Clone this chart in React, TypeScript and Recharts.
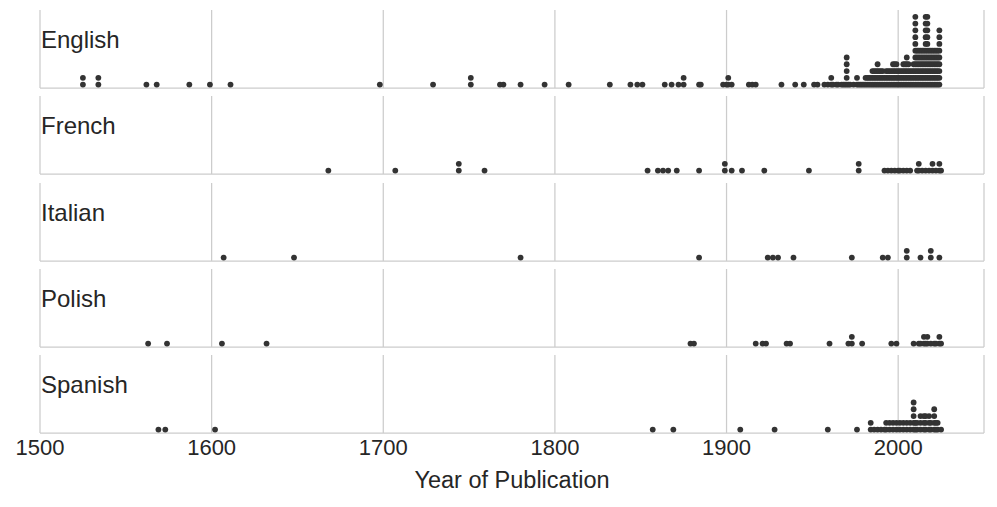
import { ScatterChart, Scatter, XAxis, YAxis, CartesianGrid, Label } from "recharts"

const languages = ["English", "French", "Italian", "Polish", "Spanish"]

// publication years and how many books share each year
const englishYears = [
  1525, 1534, 1562, 1568, 1587, 1599, 1611, 1698, 1729, 1751, 1768, 1770, 1780, 1794, 1808,
  1832, 1844, 1848, 1851, 1864, 1868, 1872, 1875, 1884, 1885, 1898, 1900, 1901, 1903, 1913,
  1915, 1917, 1932, 1940, 1945, 1951, 1953, 1957, 1959, 1961, 1962, 1964, 1965, 1967, 1968,
  1969, 1970, 1971, 1972, 1974, 1976, 1977, 1978, 1979, 1980, 1981, 1982, 1983, 1984, 1985,
  1986, 1987, 1988, 1989, 1990, 1991, 1992, 1993, 1994, 1995, 1996, 1997, 1998, 1999, 2000,
  2001, 2002, 2003, 2004, 2005, 2006, 2007, 2008, 2009, 2010, 2011, 2012, 2013, 2014, 2015,
  2016, 2017, 2018, 2019, 2020, 2021, 2022, 2023, 2024,
]
const englishCounts = [
  2, 2, 1, 1, 1, 1, 1, 1, 1, 2, 1, 1, 1, 1, 1,
  1, 1, 1, 1, 1, 1, 1, 2, 1, 1, 1, 1, 2, 1, 1,
  1, 1, 1, 1, 1, 1, 1, 1, 1, 2, 1, 1, 1, 1, 1,
  1, 5, 1, 1, 1, 2, 1, 1, 1, 1, 2, 2, 2, 2, 3,
  3, 3, 4, 3, 3, 3, 2, 3, 3, 3, 3, 4, 4, 4, 3,
  3, 3, 4, 4, 5, 4, 3, 3, 4, 11, 6, 6, 6, 6, 6,
  11, 11, 6, 6, 6, 6, 6, 6, 9,
]

const frenchYears = [
  1668, 1707, 1744, 1759, 1854, 1860, 1863, 1866, 1871, 1884, 1899, 1903, 1909, 1922, 1948,
  1977, 1992, 1994, 1996, 1998, 2000, 2001, 2003, 2005, 2007, 2011, 2012, 2014, 2016, 2018,
  2020, 2022, 2024, 2025,
]
const frenchCounts = [
  1, 1, 2, 1, 1, 1, 1, 1, 1, 1, 2, 1, 1, 1, 1,
  2, 1, 1, 1, 1, 1, 1, 1, 1, 1, 1, 2, 1, 1, 1,
  2, 1, 2, 1,
]

const italianYears = [
  1607, 1648, 1780, 1884, 1924, 1927, 1930, 1939, 1973, 1991, 1994, 2005, 2013, 2019, 2024,
]
const italianCounts = [1, 1, 1, 1, 1, 1, 1, 1, 1, 1, 1, 2, 1, 2, 1]

const polishYears = [
  1563, 1574, 1606, 1632, 1879, 1881, 1917, 1921, 1923, 1935, 1937, 1960, 1971, 1973, 1979,
  1996, 1999, 2009, 2012, 2013, 2015, 2016, 2017, 2019, 2021, 2022, 2024, 2025,
]
const polishCounts = [
  1, 1, 1, 1, 1, 1, 1, 1, 1, 1, 1, 1, 1, 2, 1,
  1, 1, 1, 1, 1, 2, 1, 2, 1, 1, 1, 2, 1,
]

const spanishYears = [
  1569, 1573, 1602, 1857, 1869, 1908, 1928, 1959, 1976, 1984, 1986, 1988, 1990, 1992, 1993,
  1995, 1997, 1999, 2001, 2003, 2005, 2007, 2009, 2010, 2011, 2013, 2015, 2016, 2018, 2019,
  2021, 2022, 2023, 2025,
]
const spanishCounts = [
  1, 1, 1, 1, 1, 1, 1, 1, 1, 2, 1, 1, 1, 1, 2,
  2, 2, 2, 2, 2, 2, 2, 5, 2, 2, 3, 3, 3, 3, 2,
  4, 2, 2, 1,
]

const panelYears = [englishYears, frenchYears, italianYears, polishYears, spanishYears]
const panelCounts = [englishCounts, frenchCounts, italianCounts, polishCounts, spanishCounts]

const xTicks = [1500, 1600, 1700, 1800, 1900, 2000]
const xLabel = "Year of Publication"

const W = 997
const PLOT_H = 78
const AXIS_H = 62
const PANEL_TOPS = [10, 96, 183, 269, 355]
const GRID = "#cccccc"
const INK = "#262626"
const FONT = '"Liberation Sans", Arial, sans-serif'

// stack books published in the same year on top of each other
function toDots(years: number[], counts: number[]) {
  const dots: { year: number; level: number }[] = []
  years.forEach((year, i) => {
    for (let k = 0; k < counts[i]; k++) dots.push({ year, level: k + 0.5 })
  })
  return dots
}

const Dot = (props: any) => (
  <circle cx={props.cx} cy={props.cy} r={2.9} fill="#333333" />
)

// upper panels keep their ticks (for the grid) but draw no labels
const NoTick = () => <g />

function Panel({ name, years, counts, top, last }: {
  name: string
  years: number[]
  counts: number[]
  top: number
  last: boolean
}) {
  const axisH = last ? AXIS_H : 2
  return (
    <div style={{ position: "absolute", left: 0, top }}>
      <ScatterChart
        width={W}
        height={PLOT_H + axisH}
        margin={{ top: 0, right: 13, bottom: 0, left: 40 }}
      >
        <CartesianGrid horizontal={false} stroke={GRID} strokeWidth={1.25} />
        <XAxis
          type="number"
          dataKey="year"
          domain={[1500, 2050]}
          ticks={xTicks}
          height={axisH}
          tickLine={false}
          tickMargin={0}
          fontSize={22}
          tick={last ? { fill: INK, fontSize: 22 } : NoTick}
          axisLine={{ stroke: GRID, strokeWidth: 1.25 }}
        >
          {last && (
            <Label value={xLabel} position="insideBottom" offset={7} fill={INK} fontSize={23.5} />
          )}
        </XAxis>
        <YAxis
          type="number"
          dataKey="level"
          domain={[0, 11.5]}
          width={0}
          tick={false}
          tickLine={false}
          axisLine={{ stroke: GRID, strokeWidth: 1.25 }}
        />
        <Scatter data={toDots(years, counts)} shape={Dot} isAnimationActive={false} />
      </ScatterChart>
      <div
        style={{
          position: "absolute",
          left: 41,
          top: 18,
          fontSize: 24,
          lineHeight: "24px",
          color: INK,
        }}
      >
        {name}
      </div>
    </div>
  )
}

export default function App() {
  return (
    <div
      style={{
        position: "absolute",
        left: 0,
        top: 0,
        width: W,
        height: 507,
        background: "#ffffff",
        fontFamily: FONT,
      }}
    >
      {languages.map((name, i) => (
        <Panel
          key={name}
          name={name}
          years={panelYears[i]}
          counts={panelCounts[i]}
          top={PANEL_TOPS[i]}
          last={i === languages.length - 1}
        />
      ))}
    </div>
  )
}
